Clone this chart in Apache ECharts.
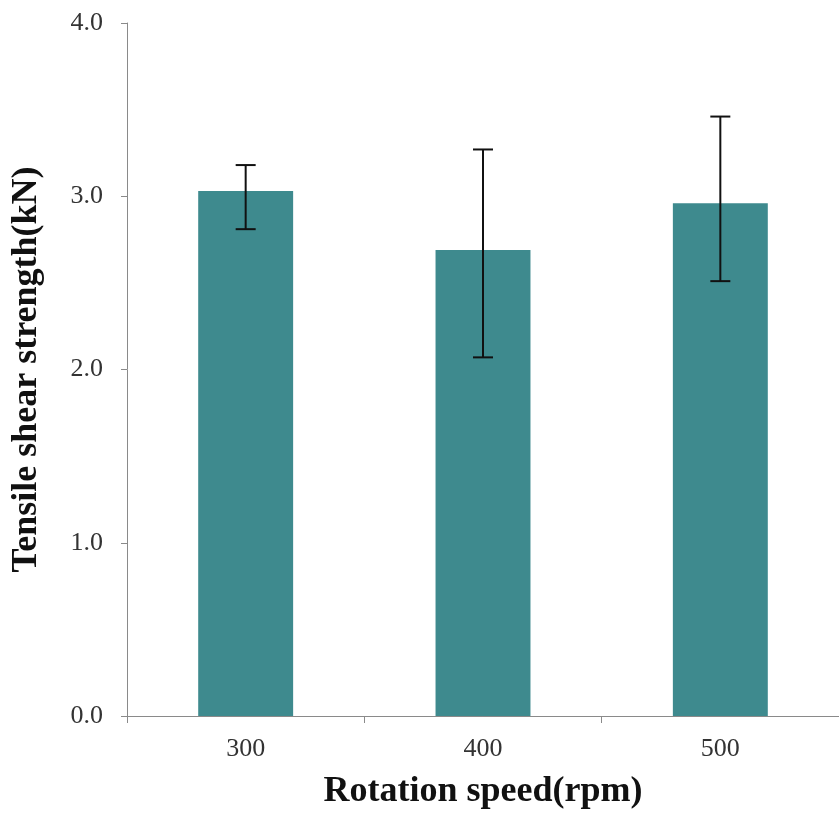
<!DOCTYPE html>
<html>
<head>
<meta charset="utf-8">
<style>
  html, body { margin: 0; padding: 0; background: #ffffff; }
  #chart { width: 839px; height: 821px; }
</style>
<script src="https://cdn.jsdelivr.net/npm/echarts@6/dist/echarts.min.js"></script>
</head>
<body>
<div id="chart"></div>
<script>
// Rotation speeds (rpm) and mean tensile shear strength (kN)
const speeds = ['300', '400', '500'];
const strength = [3.03, 2.69, 2.96];
// Error bar ends (kN)
const errLow = [2.81, 2.07, 2.51];
const errHigh = [3.18, 3.27, 3.46];
// Value axis ticks
const yMin = 0, yMax = 4, yStep = 1;

const serif = '"Liberation Serif", "Times New Roman", serif';
const axisGray = '#8a8a8a';
const tealFill = '#3e8a8e';

const chart = echarts.init(document.getElementById('chart'), null, { renderer: 'canvas' });

const errorData = speeds.map((s, i) => [i, errLow[i], errHigh[i]]);

chart.setOption({
  animation: false,
  backgroundColor: '#ffffff',
  grid: { left: 127, right: -2, top: 23, bottom: 105, containLabel: false },
  xAxis: {
    type: 'category',
    data: speeds,
    boundaryGap: true,
    name: 'Rotation speed(rpm)',
    nameLocation: 'middle',
    nameGap: 58,
    nameTextStyle: { fontFamily: serif, fontWeight: 'bold', fontSize: 36, color: '#111111' },
    axisLine: { lineStyle: { color: axisGray, width: 1 } },
    axisTick: { show: true, alignWithLabel: false, length: 7, lineStyle: { color: axisGray } },
    axisLabel: { fontFamily: serif, fontSize: 26, color: '#333333', margin: 20 },
    splitLine: { show: false }
  },
  yAxis: {
    type: 'value',
    min: yMin,
    max: yMax,
    interval: yStep,
    name: 'Tensile shear strength(kN)',
    nameLocation: 'middle',
    nameGap: 82,
    nameRotate: 90,
    nameTextStyle: { fontFamily: serif, fontWeight: 'bold', fontSize: 36, color: '#111111' },
    axisLine: { show: true, lineStyle: { color: axisGray, width: 1 } },
    axisTick: { show: true, inside: false, length: 6, lineStyle: { color: axisGray } },
    axisLabel: {
      fontFamily: serif, fontSize: 26, color: '#333333', margin: 24,
      formatter: v => v.toFixed(1)
    },
    splitLine: { show: false }
  },
  series: [
    {
      type: 'bar',
      data: strength,
      barWidth: '40%',
      itemStyle: { color: tealFill }
    },
    {
      type: 'custom',
      data: errorData,
      z: 10,
      renderItem: function (params, api) {
        const x = api.value(0);
        const lo = api.coord([x, api.value(1)]);
        const hi = api.coord([x, api.value(2)]);
        const half = 10;
        const style = { stroke: '#111111', lineWidth: 2 };
        return {
          type: 'group',
          children: [
            { type: 'line', shape: { x1: hi[0], y1: hi[1], x2: lo[0], y2: lo[1] }, style: style },
            { type: 'line', shape: { x1: hi[0] - half, y1: hi[1], x2: hi[0] + half, y2: hi[1] }, style: style },
            { type: 'line', shape: { x1: lo[0] - half, y1: lo[1], x2: lo[0] + half, y2: lo[1] }, style: style }
          ]
        };
      }
    }
  ]
});
</script>
</body>
</html>
